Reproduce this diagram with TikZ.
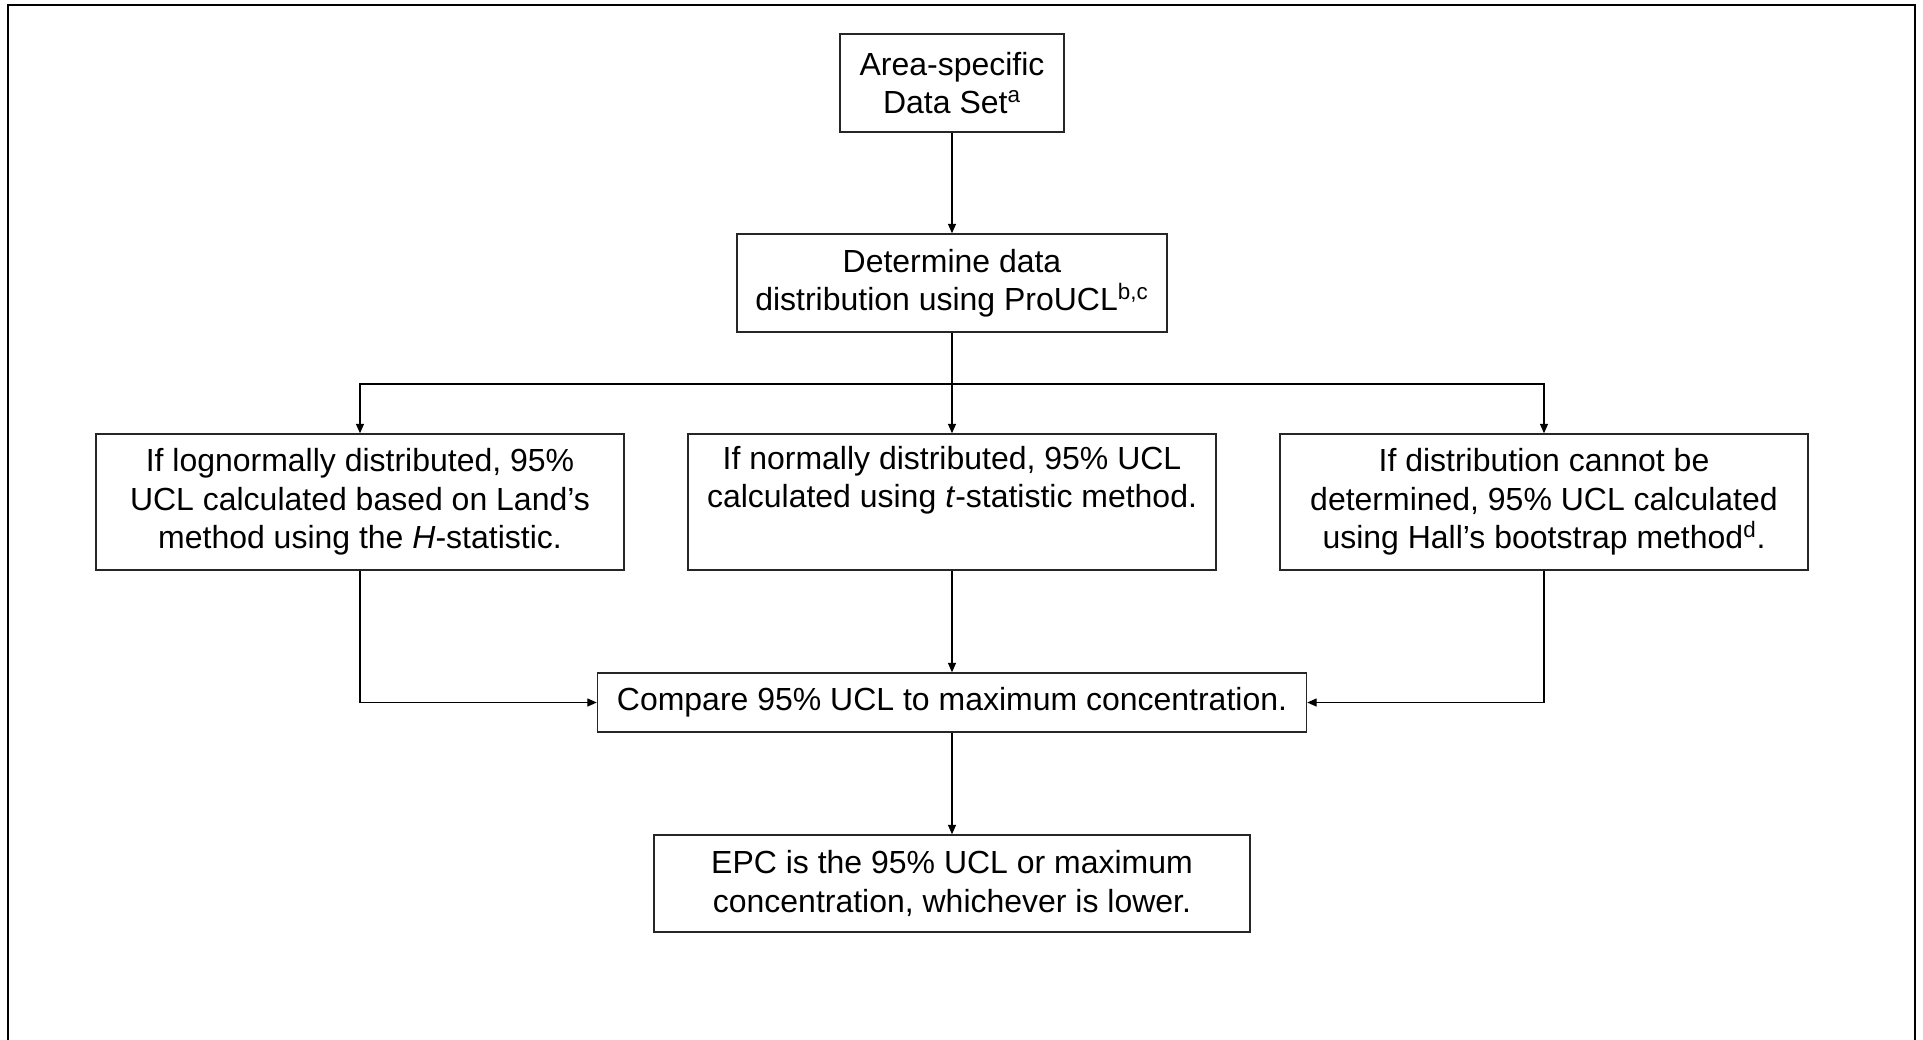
\documentclass[tikz,border=0pt]{standalone}
\usepackage{fontspec}
\setmainfont{Liberation Sans}
\usetikzlibrary{arrows.meta}

\begin{document}
\begin{tikzpicture}[
		stepbox/.style={draw=black!85,line width=0.8pt,align=center,inner sep=0pt,
			font=\fontsize{18.2}{21.9}\selectfont},
		flow/.style={line width=0.8pt,-{Triangle[length=0.19cm,width=0.16cm]}}
	]
		\useasboundingbox (-19.04,0) rectangle (19.42,-20.78);
		%\draw [help lines] (-19,-20) grid (19,0);
		% frame, open at the bottom
			\draw [line width=1.2pt] (-18.88,-21.5) |- (19.26,-0.1) -- (19.26,-21.5);
		% boxes
			\def\colw{10.56}
			\node [stepbox,minimum width=4.48cm,minimum height=1.96cm] (dataset) at (0,-1.66)
				{Area-specific\\Data Set\textsuperscript{a}};
			\node [stepbox,minimum width=8.6cm,minimum height=1.96cm] (distr) at (0,-5.66)
				{Determine data\\distribution using ProUCL\textsuperscript{b,c}};
			\node [stepbox,minimum width=\colw cm,minimum height=2.72cm] (lognorm) at (-11.84,-10.04)
				{If lognormally distributed, 95\%\\UCL calculated based on Land’s\\method using the \textit{H}-statistic.};
			\node [stepbox,minimum width=\colw cm,minimum height=2.72cm] (norm) at (0,-10.04)
				{If normally distributed, 95\% UCL\\calculated using \textit{t}-statistic method.\\\strut};
			\node [stepbox,minimum width=\colw cm,minimum height=2.72cm] (boot) at (11.84,-10.04)
				{If distribution cannot be\\determined, 95\% UCL calculated\\using Hall’s bootstrap method\textsuperscript{d}.};
			\node [stepbox,minimum width=14.18cm,minimum height=1.18cm] (compare) at (0,-14.05)
				{Compare 95\% UCL to maximum concentration.};
			\node [stepbox,minimum width=11.92cm,minimum height=1.94cm] (epc) at (0,-17.67)
				{EPC is the 95\% UCL or maximum\\concentration, whichever is lower.};
		% arrows
			\coordinate (split) at (0,-7.68);
			\draw [flow] (dataset) -- (distr);
			\draw [flow] (distr.south) -- (split) -| (lognorm.north);
			\draw [flow] (split) -| (boot.north);
			\draw [flow] (split) -- (norm.north);
			\draw [flow] (lognorm.south) |- (compare.west);
			\draw [flow] (norm) -- (compare);
			\draw [flow] (boot.south) |- (compare.east);
			\draw [flow] (compare) -- (epc);
	\end{tikzpicture}
\end{document}
